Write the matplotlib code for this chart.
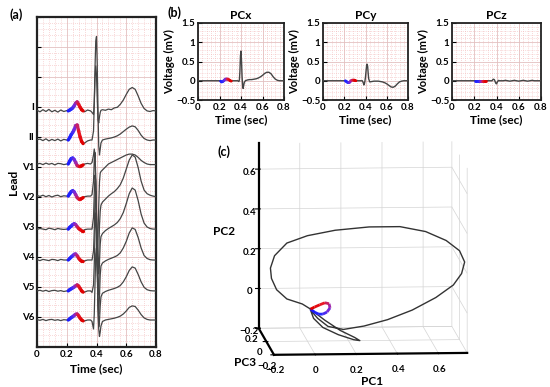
import numpy as np
import matplotlib
matplotlib.use('Agg')
import matplotlib.pyplot as plt
from matplotlib.collections import LineCollection
from matplotlib.colors import LinearSegmentedColormap
from mpl_toolkits.mplot3d.art3d import Line3DCollection

plt.rcParams['font.family'] = ['Lato', 'DejaVu Sans']
plt.rcParams['font.weight'] = 'bold'
plt.rcParams['axes.labelweight'] = 'bold'
plt.rcParams['axes.titleweight'] = 'bold'

# ---------------- data ----------------
T = [0.00, 0.02, 0.04, 0.06, 0.08, 0.10, 0.12, 0.14, 0.16, 0.18, 0.20,
     0.21, 0.22, 0.23, 0.24, 0.25, 0.26, 0.27, 0.28, 0.29, 0.30, 0.31, 0.32, 0.34, 0.36,
     0.37, 0.38, 0.385, 0.39, 0.395, 0.40, 0.405, 0.41, 0.415, 0.42, 0.425, 0.43, 0.44,
     0.46, 0.48, 0.50, 0.52, 0.54, 0.56, 0.58, 0.60, 0.62, 0.64, 0.66, 0.68, 0.70,
     0.72, 0.74, 0.76, 0.78, 0.80]

LEADS = ['I', 'II', 'V1', 'V2', 'V3', 'V4', 'V5', 'V6']
LEAD_LEVELS = [8, 7, 6, 5, 4, 3, 2, 1]
LEAD_BASE = [7.87, 6.9, 6.1, 5.03, 3.93, 2.9, 1.87, 0.9]

ECG_I = [0.02, -0.03, 0.04, -0.02, 0.05, -0.03, 0.02, -0.04, 0.03, -0.02, 0.01,
         0.0, 0.03, 0.06, 0.1, 0.17, 0.26, 0.3, 0.22, 0.12, 0.04, 0.0, -0.03, 0.03, 0.0,
         -0.05, -0.12, 0.3, 1.1, 1.5, 1.2, 0.4, -0.3, -0.4, -0.2, -0.05, 0.02, 0.04,
         0.02, 0.06, 0.04, 0.1, 0.12, 0.22, 0.36, 0.55, 0.72, 0.78, 0.72, 0.5, 0.25,
         0.08, 0.0, -0.02, 0.01, 0.0]
ECG_II = [0.01, 0.03, -0.02, 0.04, -0.03, 0.02, -0.02, 0.03, -0.03, 0.02, 0.0,
          0.0, 0.08, 0.18, 0.25, 0.35, 0.48, 0.5, 0.3, 0.1, -0.05, -0.12, -0.1, -0.03, 0.0,
          0.0, 0.3, 1.2, 2.4, 3.3, 3.45, 2.5, 1.0, -0.2, -0.5, -0.3, -0.1, 0.0,
          0.03, 0.05, 0.07, 0.1, 0.14, 0.2, 0.28, 0.36, 0.43, 0.47, 0.44, 0.32, 0.16,
          0.05, 0.0, -0.02, 0.0, 0.0]
ECG_V1 = [0.0, 0.02, -0.02, 0.03, -0.01, 0.02, -0.03, 0.02, 0.01, -0.02, 0.0,
          0.0, 0.1, 0.18, 0.2, 0.15, 0.05, -0.05, -0.08, -0.08, -0.06, -0.03, 0.0, 0.02, 0.0,
          0.05, 0.3, 0.5, 0.3, -0.8, -2.0, -2.8, -2.4, -1.4, -0.6, -0.3, -0.25, -0.2,
          -0.1, 0.0, 0.05, 0.1, 0.15, 0.2, 0.25, 0.3, 0.33, 0.33, 0.3, 0.22, 0.12,
          0.05, 0.0, -0.02, -0.02, -0.02]
ECG_V2 = [0.02, -0.01, 0.03, -0.02, 0.02, -0.03, 0.01, 0.03, -0.02, 0.01, 0.0,
          0.0, 0.08, 0.15, 0.18, 0.14, 0.05, -0.05, -0.1, -0.1, -0.08, -0.05, -0.02, 0.0, 0.0,
          0.05, 0.5, 1.2, 1.45, 0.6, -0.8, -2.2, -2.6, -2.0, -1.0, -0.5, -0.3, -0.2,
          -0.1, 0.0, 0.08, 0.15, 0.25, 0.38, 0.6, 0.9, 1.2, 1.37, 1.3, 0.95, 0.5,
          0.2, 0.08, 0.03, 0.0, -0.02]
ECG_V3 = [-0.01, 0.02, 0.0, -0.02, 0.03, 0.01, -0.02, 0.02, 0.0, -0.01, 0.0,
          0.0, 0.06, 0.1, 0.15, 0.18, 0.15, 0.08, 0.02, -0.02, -0.05, -0.05, -0.02, 0.0, 0.0,
          0.0, 0.4, 1.2, 1.8, 1.6, 0.5, -1.0, -2.2, -2.0, -1.1, -0.5, -0.25, -0.15,
          -0.05, 0.02, 0.08, 0.14, 0.22, 0.35, 0.55, 0.85, 1.18, 1.37, 1.3, 0.95, 0.5,
          0.2, 0.07, 0.02, 0.0, 0.0]
ECG_V4 = [0.01, -0.02, 0.02, 0.0, -0.02, 0.02, 0.01, -0.02, 0.02, 0.0, 0.0,
          0.0, 0.05, 0.1, 0.14, 0.19, 0.2, 0.14, 0.06, 0.0, -0.04, -0.05, -0.03, 0.0, 0.0,
          0.0, 0.3, 1.0, 2.0, 2.3, 1.4, 0.0, -1.4, -1.8, -1.2, -0.5, -0.2, -0.1,
          -0.03, 0.02, 0.06, 0.1, 0.15, 0.24, 0.4, 0.62, 0.9, 1.07, 1.02, 0.75, 0.4,
          0.15, 0.05, 0.01, 0.0, 0.0]
ECG_V5 = [0.0, 0.02, -0.01, 0.02, -0.02, 0.01, 0.02, -0.01, 0.01, -0.02, 0.0,
          0.0, 0.04, 0.07, 0.1, 0.13, 0.17, 0.2, 0.16, 0.08, 0.0, -0.04, -0.04, 0.0, 0.0,
          -0.05, 0.2, 0.9, 1.9, 2.6, 2.2, 1.0, -0.4, -1.2, -1.0, -0.5, -0.2, -0.08,
          -0.02, 0.02, 0.05, 0.08, 0.12, 0.18, 0.3, 0.47, 0.68, 0.8, 0.76, 0.55, 0.3,
          0.12, 0.04, 0.01, 0.0, 0.0]
ECG_V6 = [0.01, -0.01, 0.02, -0.02, 0.01, 0.02, -0.01, 0.01, -0.02, 0.01, 0.0,
          0.0, 0.04, 0.08, 0.11, 0.15, 0.19, 0.2, 0.14, 0.06, 0.0, -0.03, -0.03, 0.0, 0.0,
          -0.05, -0.3, 0.2, 1.2, 2.2, 2.4, 1.6, 0.4, -0.3, -0.55, -0.4, -0.2, -0.05,
          0.0, 0.02, 0.04, 0.06, 0.09, 0.13, 0.2, 0.3, 0.42, 0.47, 0.45, 0.33, 0.18,
          0.07, 0.02, 0.0, 0.0, 0.0]
ECG = [ECG_I, ECG_II, ECG_V1, ECG_V2, ECG_V3, ECG_V4, ECG_V5, ECG_V6]

PC_NAMES = ['PCx', 'PCy', 'PCz']
PCX = [0.0, 0.0, 0.0, 0.0, 0.0, 0.0, 0.0, 0.0, 0.0, 0.0, 0.0,
       -0.01, -0.03, -0.02, 0.0, 0.03, 0.05, 0.05, 0.04, 0.02, 0.0, -0.01, 0.0, 0.0, 0.0,
       0.0, -0.02, 0.02, 0.25, 0.65, 0.77, 0.5, 0.1, -0.12, -0.2, -0.12, -0.05, 0.0,
       0.02, 0.03, 0.03, 0.04, 0.05, 0.07, 0.1, 0.14, 0.19, 0.22, 0.22, 0.18, 0.1,
       0.04, 0.01, 0.0, 0.0, 0.0]
PCY = [0.0, 0.0, 0.0, 0.0, 0.0, 0.0, 0.0, 0.0, 0.0, 0.0, 0.0,
       0.0, -0.02, -0.04, -0.05, -0.04, -0.01, 0.01, 0.02, 0.02, 0.01, 0.0, 0.0, 0.0, 0.0,
       0.0, -0.06, -0.11, -0.08, 0.0, 0.1, 0.25, 0.38, 0.43, 0.38, 0.2, 0.05, -0.03,
       -0.02, -0.01, -0.01, -0.01, -0.02, -0.03, -0.05, -0.08, -0.12, -0.16, -0.17, -0.14, -0.08,
       -0.03, -0.01, 0.0, 0.0, 0.0]
PCZ = [0.0, 0.0, 0.0, 0.0, 0.0, 0.0, 0.0, 0.0, 0.0, 0.0, 0.0,
       0.0, 0.0, 0.0, 0.0, 0.0, 0.0, 0.0, 0.0, 0.0, 0.0, 0.0, 0.0, 0.0, 0.0,
       0.04, 0.03, 0.0, -0.04, -0.07, -0.08, -0.05, -0.02, 0.0, 0.01, 0.0, 0.0, 0.0,
       0.0, 0.01, 0.0, -0.01, 0.0, 0.01, 0.0, -0.01, 0.0, 0.01, 0.0, -0.01, 0.0,
       0.01, 0.0, 0.0, 0.0, 0.0]
PCS = [PCX, PCY, PCZ]
P_WINDOW = (0.21, 0.31)

# vectorcardiogram loop (PC1, PC2, PC3)
LOOP_PC1 = [0.015, -0.025, -0.1, -0.15, -0.175, -0.18, -0.16, -0.1, 0.0, 0.135, 0.3, 0.45,
            0.575, 0.675, 0.74, 0.765, 0.75, 0.71, 0.625, 0.51, 0.39, 0.275, 0.175, 0.1,
            0.05, 0.015, 0.03, 0.075, 0.15, 0.225, 0.255, 0.23, 0.16, 0.085, 0.04, 0.015]
LOOP_PC2 = [-0.039, -0.013, 0.013, 0.06, 0.117, 0.169, 0.231, 0.294, 0.33, 0.356, 0.371, 0.371,
            0.345, 0.299, 0.247, 0.19, 0.132, 0.075, 0.013, -0.049, -0.096, -0.127, -0.143, -0.127,
            -0.086, -0.044, -0.086, -0.132, -0.169, -0.195, -0.2, -0.184, -0.148, -0.096, -0.06, -0.039]
LOOP_PC3 = [0.0] * len(LOOP_PC1)
P_LOOP_PC1 = [0.015, 0.035, 0.055, 0.075, 0.095, 0.11, 0.105, 0.085, 0.06, 0.035, 0.015]
P_LOOP_PC2 = [-0.039, -0.055, -0.065, -0.065, -0.055, -0.034, -0.013, -0.008, -0.018, -0.029, -0.039]
P_LOOP_PC3 = [0.0] * len(P_LOOP_PC1)

# ---------------- style helpers ----------------
LINE_COLOR = '#454545'
PCMAP = LinearSegmentedColormap.from_list('pw', ['#1a1aff', '#2a2aff', '#8a2ad0', '#e81a2a', '#e00000'])
W, H = 550, 387


def fig_rect(x0, y0, x1, y1):
    return [x0 / W, 1 - y1 / H, (x1 - x0) / W, (y1 - y0) / H]


def gradient_line(ax, x, y, lw):
    pts = np.column_stack([x, y]).reshape(-1, 1, 2)
    segs = np.concatenate([pts[:-1], pts[1:]], axis=1)
    cols = PCMAP(np.linspace(0, 1, len(segs)))
    lc = LineCollection(segs, colors=cols, linewidths=lw, capstyle='round', zorder=4)
    ax.add_collection(lc)


def ecg_paper(ax, xminor, yminor):
    ax.set_xticks(xminor, minor=True)
    ax.set_yticks(yminor, minor=True)
    ax.grid(which='minor', color='#f2b4b4', linestyle=(0, (1, 2)), linewidth=0.5)
    ax.grid(which='major', color='#e3c0c0', linestyle='-', linewidth=0.6)
    ax.tick_params(which='minor', length=0)
    ax.tick_params(which='major', direction='in', length=3, width=0.8, labelsize=7, pad=2)
    for s in ax.spines.values():
        s.set_linewidth(1.6)
        s.set_color('#222222')
    ax.set_axisbelow(True)


fig = plt.figure(figsize=(5.5, 3.87), dpi=100)

t = np.array(T)
pmask = (t >= P_WINDOW[0] - 1e-9) & (t <= P_WINDOW[1] + 1e-9)

# ---------------- panel (c) (added first so it sits underneath) ----------------
ax3 = fig.add_axes(fig_rect(214, 107, 504, 397), projection='3d', proj_type='ortho')
ax3.set_facecolor((1, 1, 1, 0))
ax3.patch.set_visible(False)
ax3.set_zorder(-1)
ax3.set_xlim(-0.2, 0.74)
ax3.set_ylim(-0.2, 0.2)
ax3.set_zlim(-0.2, 0.73)
ax3.set_box_aspect((190, 200, 183), zoom=1.13)
ax3.view_init(elev=7.5, azim=-94.3)
ax3.plot(LOOP_PC1, LOOP_PC3, LOOP_PC2, color='#333333', lw=1.0)
p3 = np.column_stack([P_LOOP_PC1, P_LOOP_PC3, P_LOOP_PC2]).reshape(-1, 1, 3)
segs3 = np.concatenate([p3[:-1], p3[1:]], axis=1)
ax3.add_collection3d(Line3DCollection(segs3, colors=PCMAP(np.linspace(0, 1, len(segs3))),
                                      linewidths=2.0))
ax3.set_xticks([-0.2, 0, 0.2, 0.4, 0.6])
ax3.set_xticklabels(['\u22120.2', '0', '0.2', '0.4', '0.6'])
ax3.set_yticks([-0.2, 0, 0.2])
ax3.set_yticklabels(['\u22120.2', '0', '0.2'])
ax3.set_zticks([-0.2, 0, 0.2, 0.4, 0.6])
ax3.set_zticklabels(['\u22120.2', '0', '0.2', '0.4', '0.6'])
for axis in (ax3.xaxis, ax3.yaxis, ax3.zaxis):
    axis.set_pane_color((1, 1, 1, 0))
    axis.pane.set_edgecolor('#444444')
    axis.pane.set_linewidth(0.8)
    axis._axinfo['grid']['color'] = '#d4d4d4'
    axis._axinfo['grid']['linewidth'] = 0.5
    axis.line.set_color('black')
    axis.line.set_linewidth(1.6)
ax3.tick_params(labelsize=7, pad=-2)
ax3.tick_params(axis='z', pad=-3)
ax3.tick_params(axis='y', pad=-4)
ax3.set_xlabel('PC1', fontsize=8.5, labelpad=-7)
ax3.set_ylabel('PC3', fontsize=8.5, labelpad=-9)
ax3.zaxis.set_rotate_label(False)
ax3.set_zlabel('PC2', fontsize=8.5, labelpad=-3, rotation=0)
fig.text(217 / W, 1 - 152 / H, '(c)', fontsize=9, fontweight='bold', va='center')

# ---------------- panel (a) ----------------
axA = fig.add_axes(fig_rect(37, 17, 156, 347))
for base, vals in zip(LEAD_BASE, ECG):
    y = base + np.array(vals)
    axA.plot(t, y, color=LINE_COLOR, lw=0.9, zorder=3)
    gradient_line(axA, t[pmask], y[pmask], 2.4)
axA.set_xlim(0, 0.8)
axA.set_ylim(0, 11)
axA.set_xticks([0, 0.2, 0.4, 0.6, 0.8])
axA.set_xticklabels(['0', '0.2', '0.4', '0.6', '0.8'])
axA.set_yticks(list(range(0, 12)))
ylabs = ['' for _ in range(12)]
for lv, nm in zip(LEAD_LEVELS, LEADS):
    ylabs[lv] = nm
axA.set_yticklabels(ylabs)
ecg_paper(axA, np.arange(0, 0.801, 0.04), np.arange(0, 11.01, 0.2))
axA.set_xlabel('Time (sec)', fontsize=8.5, labelpad=3)
axA.set_ylabel('Lead', fontsize=8.5, labelpad=2)
fig.text(9 / W, 1 - 15 / H, '(a)', fontsize=9, fontweight='bold', va='center')

# ---------------- panel (b) ----------------
pc_boxes = [(198, 284), (323, 408), (452, 541)]
for name, vals, (x0, x1) in zip(PC_NAMES, PCS, pc_boxes):
    ax = fig.add_axes(fig_rect(x0, 23, x1, 100))
    v = np.array(vals)
    ax.plot(t, v, color=LINE_COLOR, lw=1.0, zorder=3)
    gradient_line(ax, t[pmask], v[pmask], 2.0)
    ax.set_xlim(0, 0.8)
    ax.set_ylim(-0.5, 1.5)
    ax.set_xticks([0, 0.2, 0.4, 0.6, 0.8])
    ax.set_xticklabels(['0', '0.2', '0.4', '0.6', '0.8'])
    ax.set_yticks([-0.5, 0, 0.5, 1, 1.5])
    ax.set_yticklabels(['\u22120.5', '0', '0.5', '1', '1.5'])
    ecg_paper(ax, np.arange(0, 0.801, 0.04), np.arange(-0.5, 1.501, 0.1))
    for s in ax.spines.values():
        s.set_linewidth(1.3)
    ax.set_title(name, fontsize=8.5, pad=3)
    ax.set_xlabel('Time (sec)', fontsize=8.5, labelpad=2)
    ax.set_ylabel('Voltage (mV)', fontsize=8, labelpad=1)
fig.text(167 / W, 1 - 13 / H, '(b)', fontsize=9, fontweight='bold', va='center')

fig.savefig('out.png', dpi=100)
